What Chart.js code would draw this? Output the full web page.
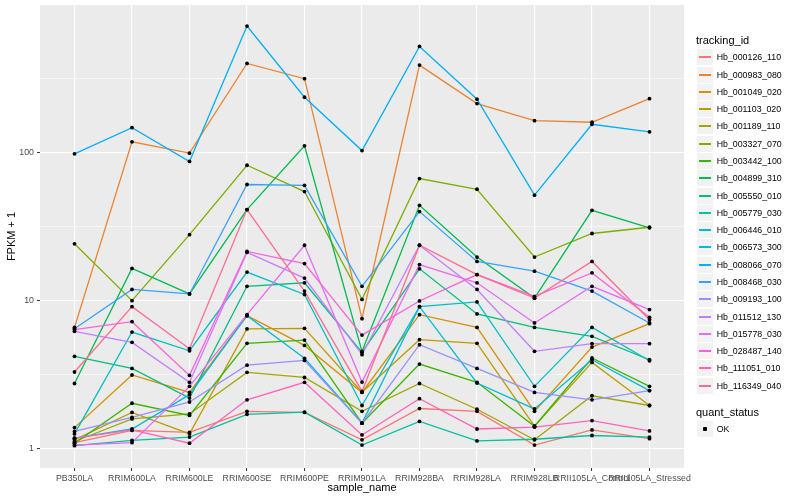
<!DOCTYPE html>
<html><head><meta charset="utf-8">
<script src="https://cdn.jsdelivr.net/npm/chart.js@4"></script>
<style>
html,body{margin:0;padding:0;background:#fff;}
#wrap{position:relative;width:800px;height:500px;font-family:'Liberation Sans',Arial,sans-serif;}
#c{position:absolute;left:0;top:0;}
.ttl{position:absolute;font-size:11px;line-height:13px;color:#000;white-space:nowrap;}
.key{position:absolute;width:16px;height:16px;background:#F2F2F2;}
.key i{position:absolute;left:2px;width:12px;top:7px;height:1.6px;}
.key b{position:absolute;left:6px;top:6px;width:4px;height:4px;background:#000;border-radius:1px;}
.lab{position:absolute;font-size:8.8px;line-height:10px;color:#000;white-space:nowrap;}
</style></head>
<body><div id="wrap"><canvas id="c" width="800" height="500"></canvas><div id="legend"></div></div>
<script>
const categories = ["PB350LA","RRIM600LA","RRIM600LE","RRIM600SE","RRIM600PE","RRIM901LA","RRIM928BA","RRIM928LA","RRIM928LB","RRII105LA_Control","RRII105LA_Stressed"];
const trackingIds = ["Hb_000126_110","Hb_000983_080","Hb_001049_020","Hb_001103_020","Hb_001189_110","Hb_003327_070","Hb_003442_100","Hb_004899_310","Hb_005550_010","Hb_005779_030","Hb_006446_010","Hb_006573_300","Hb_008066_070","Hb_008468_030","Hb_009193_100","Hb_011512_130","Hb_015778_030","Hb_028487_140","Hb_111051_010","Hb_116349_040"];

const hb_000126_110 = [1.10, 1.33, 1.29, 1.79, 1.76, 1.15, 1.87, 1.79, 1.06, 1.34, 1.17];
const hb_000983_080 = [6.6, 118, 99, 399, 315, 7.56, 389, 214, 164, 160, 231];
const hb_001049_020 = [1.39, 3.15, 2.40, 7.92, 4.99, 2.40, 8.04, 6.60, 1.79, 4.86, 6.99];
const hb_001103_020 = [1.15, 1.76, 1.26, 6.44, 6.50, 2.41, 5.45, 5.15, 1.42, 3.83, 1.96];
const hb_001189_110 = [1.12, 1.59, 1.72, 3.28, 3.03, 1.79, 2.76, 1.85, 1.15, 2.28, 1.96];
const hb_003327_070 = [24.2, 10.0, 27.9, 82, 54.5, 10.2, 66.7, 56.5, 19.7, 28.4, 31.3];
const hb_003442_100 = [1.09, 2.03, 1.68, 5.15, 5.42, 1.49, 3.73, 2.81, 1.42, 4.10, 2.64];
const hb_004899_310 = [2.76, 16.5, 11.1, 41.2, 111, 4.54, 44, 19.7, 10.4, 40.7, 31];
const hb_005550_010 = [4.21, 3.49, 2.20, 12.5, 13.2, 4.48, 16.4, 8.13, 6.60, 5.74, 3.99];
const hb_005779_030 = [1.05, 1.14, 1.20, 1.71, 1.77, 1.06, 1.53, 1.13, 1.16, 1.23, 1.20];
const hb_006446_010 = [1.26, 6.14, 4.59, 15.6, 11.0, 1.96, 9.11, 9.8, 2.64, 6.60, 3.93];
const hb_006573_300 = [1.18, 1.36, 2.32, 7.92, 4.08, 1.49, 9.11, 2.78, 1.86, 3.99, 2.47];
const hb_008066_070 = [98, 147, 87, 713, 236, 103, 520, 229, 51.5, 155, 138];
const hb_008468_030 = [6.47, 11.9, 11.1, 60.8, 60, 12.5, 39.9, 18.4, 15.8, 11.6, 7.07];
const hb_009193_100 = [1.31, 1.63, 2.07, 3.67, 3.95, 1.49, 5.04, 3.49, 2.40, 2.14, 2.47];
const hb_011512_130 = [6.21, 5.23, 2.81, 21.2, 14.2, 4.32, 23.65, 11.9, 4.55, 5.12, 5.12];
const hb_015778_030 = [1.06, 1.10, 2.64, 8.04, 23.65, 2.82, 17.5, 13.2, 7.07, 12.5, 8.70];
const hb_028487_140 = [6.37, 7.21, 3.13, 21.5, 17.8, 5.86, 9.95, 15.0, 10.7, 15.4, 7.72];
const hb_111051_010 = [1.18, 1.34, 1.09, 2.14, 2.81, 1.24, 2.18, 1.36, 1.40, 1.55, 1.32];
const hb_116349_040 = [3.30, 9.11, 4.74, 41.2, 11.6, 2.44, 23.65, 15.0, 10.4, 18.4, 7.44];

const seriesValues = [hb_000126_110, hb_000983_080, hb_001049_020, hb_001103_020, hb_001189_110, hb_003327_070, hb_003442_100, hb_004899_310, hb_005550_010, hb_005779_030, hb_006446_010, hb_006573_300, hb_008066_070, hb_008468_030, hb_009193_100, hb_011512_130, hb_015778_030, hb_028487_140, hb_111051_010, hb_116349_040];

const yMajorTicks = [1, 10, 100];
const yMinorTicks = [3.1623, 31.623, 316.23];
const quantStatus = ["OK"];

const palette = ["#F8766D","#EA8331","#D89000","#C09B00","#A3A500","#7CAE00","#39B600","#00BB4E","#00BF7D","#00C1A3","#00BFC4","#00BAE0","#00B0F6","#35A2FF","#9590FF","#C77CFF","#E76BF3","#FA62DB","#FF62BC","#FF6C91"];

const FONT = "'Liberation Sans', Arial, sans-serif";

const lineSets = seriesValues.map((vals, i) => ({
  label: trackingIds[i],
  data: vals.map((v, j) => ({x: j, y: v})),
  borderColor: palette[i],
  backgroundColor: palette[i],
  borderWidth: 1.3,
  pointRadius: 0,
  fill: false,
  tension: 0,
  order: 100 - i
}));
const pointSets = seriesValues.map((vals, i) => ({
  label: trackingIds[i] + " " + quantStatus[0],
  data: vals.map((v, j) => ({x: j, y: v})),
  showLine: false,
  pointRadius: 1.9,
  pointBackgroundColor: "#000",
  pointBorderWidth: 0,
  order: 0
}));

const panelBg = {
  id: 'panelBg',
  beforeDraw(chart) {
    const {ctx, chartArea: a} = chart;
    ctx.save();
    ctx.fillStyle = '#EBEBEB';
    ctx.fillRect(a.left, a.top, a.right - a.left, a.bottom - a.top);
    ctx.restore();
  }
};

const isMajor = v => yMajorTicks.some(t => Math.abs(t - v) < 1e-6);

new Chart(document.getElementById('c'), {
  type: 'line',
  data: {datasets: [...lineSets, ...pointSets]},
  plugins: [panelBg],
  options: {
    responsive: false,
    animation: false,
    events: [],
    layout: {padding: {left: 0, right: 116, top: 5, bottom: 0}},
    plugins: {legend: {display: false}, tooltip: {enabled: false}},
    scales: {
      x: {
        type: 'linear', min: -0.6, max: 10.6,
        afterBuildTicks: s => { s.ticks = categories.map((c, i) => ({value: i})); },
        afterFit: s => { s.height = 32; s.paddingLeft = 0; s.paddingRight = 0; },
        ticks: {autoSkip: false, maxRotation: 0, minRotation: 0, padding: 2.5,
          callback: v => categories[v] !== undefined ? categories[v] : '',
          color: '#4D4D4D', font: {family: FONT, size: 8.8}},
        grid: {color: '#FFFFFF', lineWidth: 1.1, tickColor: '#333333', tickLength: 3, tickWidth: 1},
        border: {display: false},
        title: {display: true, text: 'sample_name', color: '#000', font: {family: FONT, size: 11}, padding: {top: 0, bottom: 5.4}}
      },
      y: {
        type: 'logarithmic', min: 0.742, max: 990, bounds: 'data',
        afterBuildTicks: s => {
          s.ticks = [...yMajorTicks, ...yMinorTicks].sort((a, b) => a - b).map(v => ({value: v, major: isMajor(v)}));
        },
        afterFit: s => { s.width = 40; s.paddingTop = 0; s.paddingBottom = 0; },
        ticks: {autoSkip: false, padding: 3,
          callback: v => isMajor(v) ? String(v) : '',
          color: '#4D4D4D', font: {family: FONT, size: 8.8}},
        grid: {
          color: '#FFFFFF',
          lineWidth: c => (c.tick && isMajor(c.tick.value)) ? 1.1 : 0.55,
          tickColor: c => (c.tick && isMajor(c.tick.value)) ? '#333333' : 'rgba(0,0,0,0)',
          tickLength: 3, tickWidth: 1
        },
        border: {display: false},
        title: {display: true, text: 'FPKM + 1', color: '#000', font: {family: FONT, size: 11}, padding: {top: 5.4, bottom: 0}}
      }
    }
  }
});

// legend (HTML)
const lg = document.getElementById('legend');
function add(html) { lg.insertAdjacentHTML('beforeend', html); }
add(`<div class="ttl" style="left:696px;top:34px">tracking_id</div>`);
trackingIds.forEach((id, i) => {
  const cy = 57.3 + i * 17.28;
  add(`<div class="key" style="left:697px;top:${Math.round(cy - 8)}px"><i style="background:${palette[i]}"></i></div>`);
  add(`<div class="lab" style="left:716.7px;top:${(cy - 5).toFixed(1)}px">${id}</div>`);
});
add(`<div class="ttl" style="left:696px;top:406px">quant_status</div>`);
quantStatus.forEach((q, i) => {
  const cy = 429.3 + i * 17.28;
  add(`<div class="key" style="left:697px;top:${Math.round(cy - 8)}px"><b></b></div>`);
  add(`<div class="lab" style="left:716.7px;top:${(cy - 5).toFixed(1)}px">${q}</div>`);
});
</script>
</body></html>
